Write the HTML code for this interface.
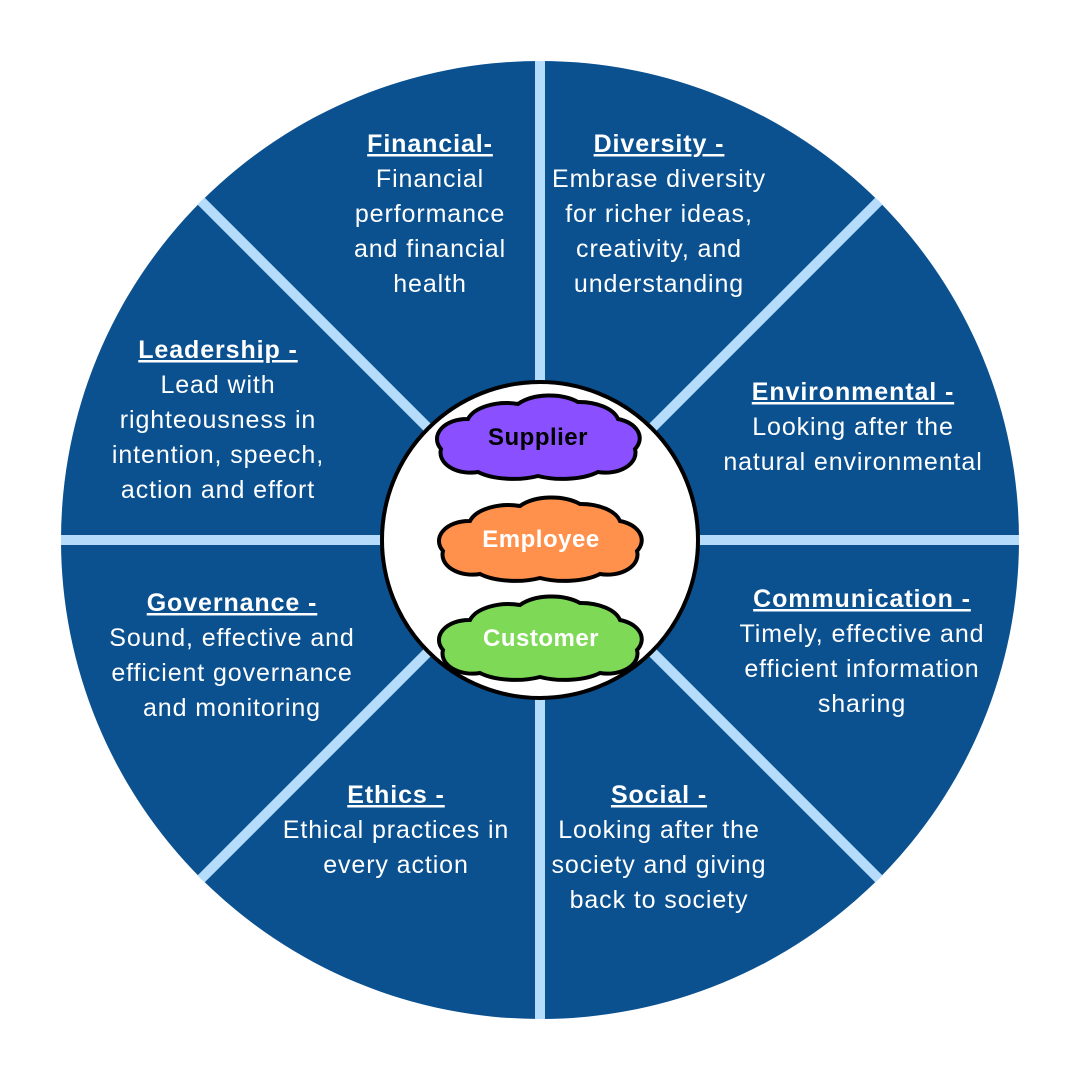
<!DOCTYPE html>
<html><head><meta charset="utf-8"><style>
html,body{margin:0;padding:0;background:#fff;}
svg{display:block}
.t{font-family:"Liberation Sans",sans-serif;font-size:25px;letter-spacing:0.9px;fill:#fff;text-anchor:middle}
.h{font-weight:bold;text-decoration:underline}
.c{font-family:"Liberation Sans",sans-serif;font-size:24px;letter-spacing:0.5px;font-weight:bold;text-anchor:middle}
</style></head><body>
<svg width="1080" height="1080" viewBox="0 0 1080 1080">
<rect width="1080" height="1080" fill="#fff"/>
<circle cx="540" cy="540" r="479" fill="#0b5190"/>
<g stroke="#b5dcfb" stroke-width="10">
<line x1="540" y1="61" x2="540" y2="1019"/>
<line x1="61" y1="540" x2="1019" y2="540"/>
<line x1="201" y1="201" x2="879" y2="879"/>
<line x1="879" y1="201" x2="201" y2="879"/>
</g>
<circle cx="540" cy="540" r="158" fill="#fff" stroke="#000" stroke-width="4"/>
<defs>
<path id="cl" d="M30,25 A40,22 0 0 1 80,10 A40,22 0 0 1 140,8 A40,22 0 0 1 180,25 A30,20 0 0 1 197,55 A30,20 0 0 1 160,78 A45,18 0 0 1 100,82 A45,18 0 0 1 40,78 A30,20 0 0 1 3,55 A30,20 0 0 1 30,25 Z" stroke="#000" stroke-width="4"/>
</defs>
<use href="#cl" x="438" y="394" fill="#8a4fff"/>
<use href="#cl" x="440" y="496" fill="#ff914d"/>
<use href="#cl" x="440" y="595" fill="#7ed957"/>
<text class="c" x="538" y="445" fill="#000">Supplier</text>
<text class="c" x="541" y="547" fill="#fff">Employee</text>
<text class="c" x="541" y="646" fill="#fff">Customer</text>

<text class="t"><tspan class="h" x="430" y="152">Financial-</tspan><tspan x="430" y="187">Financial</tspan><tspan x="430" y="222">performance</tspan><tspan x="430" y="257">and financial</tspan><tspan x="430" y="292">health</tspan></text>
<text class="t"><tspan class="h" x="659" y="152">Diversity -</tspan><tspan x="659" y="187">Embrase diversity</tspan><tspan x="659" y="222">for richer ideas,</tspan><tspan x="659" y="257">creativity, and</tspan><tspan x="659" y="292">understanding</tspan></text>
<text class="t"><tspan class="h" x="853" y="400">Environmental  -</tspan><tspan x="853" y="435">Looking after the</tspan><tspan x="853" y="470">natural environmental</tspan></text>
<text class="t"><tspan class="h" x="862" y="607">Communication -</tspan><tspan x="862" y="642">Timely, effective and</tspan><tspan x="862" y="677">efficient information</tspan><tspan x="862" y="712">sharing</tspan></text>
<text class="t"><tspan class="h" x="659" y="803">Social -</tspan><tspan x="659" y="838">Looking after the</tspan><tspan x="659" y="873">society and giving</tspan><tspan x="659" y="908">back to society</tspan></text>
<text class="t"><tspan class="h" x="396" y="803">Ethics -</tspan><tspan x="396" y="838">Ethical practices in</tspan><tspan x="396" y="873">every action</tspan></text>
<text class="t"><tspan class="h" x="232" y="611">Governance -</tspan><tspan x="232" y="646">Sound, effective and</tspan><tspan x="232" y="681">efficient governance</tspan><tspan x="232" y="716">and monitoring</tspan></text>
<text class="t"><tspan class="h" x="218" y="358">Leadership -</tspan><tspan x="218" y="393">Lead with</tspan><tspan x="218" y="428">righteousness in</tspan><tspan x="218" y="463">intention, speech,</tspan><tspan x="218" y="498">action and effort</tspan></text>
</svg>
</body></html>
